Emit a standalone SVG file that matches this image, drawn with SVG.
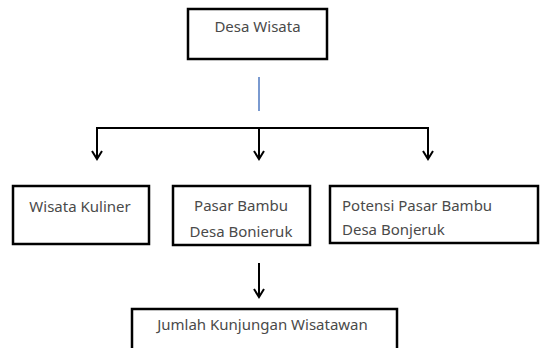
<svg xmlns="http://www.w3.org/2000/svg" width="540" height="348" viewBox="0 0 540 348">
<defs>
<style>
.box{fill:#fff;stroke:#000;stroke-width:2.5}
.t{font-family:"Noto Sans","Liberation Sans",sans-serif;font-size:15px;fill:#4a4a4a}
.c{text-anchor:middle}
.ln{fill:none;stroke:#000;stroke-width:2}
</style>
<marker id="ah" markerWidth="12" markerHeight="12" refX="10" refY="6" orient="auto" markerUnits="userSpaceOnUse" viewBox="0 0 12 12">
<path d="M2,1 L10,6 L2,11" fill="none" stroke="#000" stroke-width="2"/>
</marker>
</defs>
<g id="connectors">
<line x1="259" y1="77" x2="259" y2="111" stroke="#7a9ad0" stroke-width="2"/>
<path class="ln" d="M97,159 V128 H428 V159" marker-end="url(#ah)"/>
<line class="ln" x1="97" y1="128" x2="97" y2="159" marker-end="url(#ah)"/>
<line class="ln" x1="259" y1="128" x2="259" y2="159" marker-end="url(#ah)"/>
<line class="ln" x1="259" y1="263" x2="259" y2="297" marker-end="url(#ah)"/>
</g>
<g id="desa-wisata">
<rect class="box" x="188" y="9" width="139" height="50"/>
<text class="t c" x="257.5" y="32">Desa Wisata</text>
</g>
<g id="wisata-kuliner">
<rect class="box" x="13" y="186" width="136" height="58"/>
<text class="t c" x="80" y="212">Wisata Kuliner</text>
</g>
<g id="pasar-bambu">
<rect class="box" x="173" y="186" width="137" height="59"/>
<text class="t c" x="241" y="211">Pasar Bambu</text>
<text class="t c" x="241" y="237">Desa Bonieruk</text>
</g>
<g id="potensi">
<rect class="box" x="330" y="186" width="208" height="57"/>
<text class="t" x="342" y="211">Potensi Pasar Bambu</text>
<text class="t" x="342" y="235">Desa Bonjeruk</text>
</g>
<g id="jumlah">
<rect class="box" x="132" y="309" width="265" height="60"/>
<text class="t c" x="262.5" y="330">Jumlah Kunjungan Wisatawan</text>
</g>
</svg>
